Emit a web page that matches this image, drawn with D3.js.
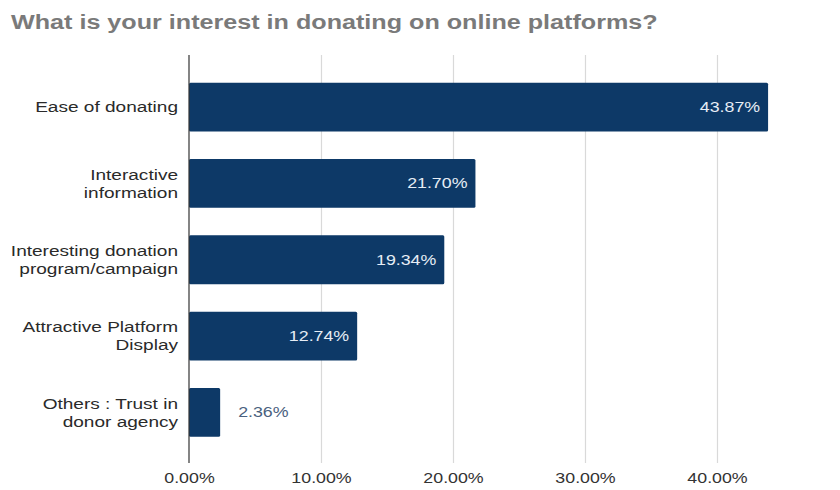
<!DOCTYPE html>
<html>
<head>
<meta charset="utf-8">
<script src="https://cdn.jsdelivr.net/npm/d3@7"></script>
<style>
  html, body { margin: 0; padding: 0; background: #fff; }
  svg { display: block; }
</style>
</head>
<body>
<svg id="chart" width="840" height="490"></svg>
<script>
// Survey answers and their share of respondents (%)
const categories = [
  ["Ease of donating"],
  ["Interactive", "information"],
  ["Interesting donation", "program/campaign"],
  ["Attractive Platform", "Display"],
  ["Others : Trust in", "donor agency"]
];
const values = [43.87, 21.70, 19.34, 12.74, 2.36];
const tickValues = [0, 10, 20, 30, 40];
const title = "What is your interest in donating on online platforms?";

const svg = d3.select("#chart");
const font = "'Liberation Sans', Arial, sans-serif";
const barColor = "#0d3967";
const stretch = 1.27;   // text is set wide: horizontal glyph scale

const x = d3.scaleLinear().domain([0, 40]).range([189, 717]);
const y = d3.scaleBand()
  .domain(d3.range(categories.length))
  .range([69, 450.5])
  .paddingInner(0.36)
  .paddingOuter(0.18);

// Title
svg.append("g")
  .attr("transform", `translate(11,29) scale(${stretch},1)`)
  .append("text")
  .attr("font-family", font)
  .attr("font-size", 19.8)
  .attr("font-weight", "bold")
  .attr("fill", "#7a7a7a")
  .text(title);

// Vertical grid lines and bottom tick labels
const xAxis = d3.axisBottom(x)
  .tickValues(tickValues)
  .tickSize(-(463 - 55))
  .tickPadding(10)
  .tickFormat(d => d3.format(".2f")(d) + "%");

const gx = svg.append("g")
  .attr("transform", "translate(0,463)")
  .call(xAxis);
gx.select(".domain").remove();
gx.selectAll(".tick line").attr("stroke", "#d9d9d9").attr("stroke-width", 1.2);
gx.selectAll(".tick text")
  .attr("font-family", font)
  .attr("font-size", 14)
  .attr("fill", "#333")
  .attr("transform", `scale(${stretch},1)`);
gx.selectAll(".tick").filter(d => d === 0).select("line").remove();

// Bars
svg.append("g").selectAll("rect")
  .data(values)
  .join("rect")
  .attr("x", x(0))
  .attr("y", (d, i) => y(i))
  .attr("width", d => x(d) - x(0))
  .attr("height", y.bandwidth())
  .attr("rx", 1.5)
  .attr("fill", barColor);

// Baseline axis
svg.append("line")
  .attr("x1", x(0)).attr("x2", x(0))
  .attr("y1", 55).attr("y2", 463)
  .attr("stroke", "#333").attr("stroke-width", 1.2);

// Category labels (multi-line, right aligned)
const lineH = 18;
svg.append("g").selectAll("g")
  .data(categories)
  .join("g")
  .attr("transform", (d, i) => `translate(178,${y(i) + y.bandwidth() / 2}) scale(${stretch},1)`)
  .append("text")
  .attr("font-family", font)
  .attr("font-size", 15)
  .attr("fill", "#2a2a2a")
  .attr("text-anchor", "end")
  .each(function(lines) {
    const top = -(lines.length - 1) * lineH / 2;
    d3.select(this).selectAll("tspan")
      .data(lines)
      .join("tspan")
      .attr("x", 0)
      .attr("y", (l, j) => top + j * lineH)
      .attr("dy", "0.35em")
      .text(l => l);
  });

// Value labels: inside the bar when it fits, otherwise after it
svg.append("g").selectAll("g")
  .data(values)
  .join("g")
  .attr("transform", (d, i) => {
    const inside = x(d) - x(0) > 60;
    const px = inside ? x(d) - 8 : x(d) + 18;
    return `translate(${px},${y(i) + y.bandwidth() / 2}) scale(${stretch},1)`;
  })
  .append("text")
  .attr("font-family", font)
  .attr("font-size", 14)
  .attr("dy", "0.35em")
  .attr("text-anchor", d => x(d) - x(0) > 60 ? "end" : "start")
  .attr("fill", d => x(d) - x(0) > 60 ? "#e6edf5" : "#4a5f7e")
  .text(d => d3.format(".2f")(d) + "%");
</script>
</body>
</html>
